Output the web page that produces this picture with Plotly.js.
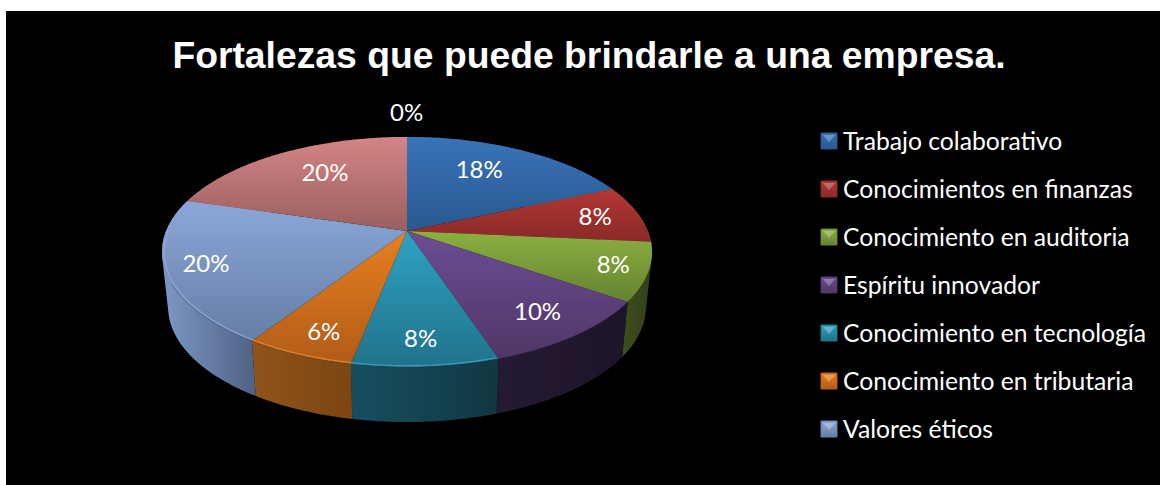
<!DOCTYPE html>
<html>
<head>
<meta charset="utf-8">
<script src="https://cdn.plot.ly/plotly-3.0.1.min.js"></script>
<style>
html,body{margin:0;padding:0;background:#fff;overflow:hidden;width:1160px;height:485px}
#chart{position:absolute;left:6px;top:11px;width:1154px;height:474px}
</style>
</head>
<body>
<div id="chart"></div>
<script>
const categories = ["Trabajo colaborativo","Conocimientos en finanzas","Conocimiento en auditoria","Espíritu innovador","Conocimiento en tecnología","Conocimiento en tributaria","Valores éticos","Categoría 8","Categoría 9"];
const values = [18,8,8,10,8,6,20,20,0];
const legendCount = 7;
const topLight = ["#3a73b9","#b33733","#8bb040","#6d4c96","#2fa3c2","#e8801f","#8ba7da","#d48585","#888888"];
const topDark  = ["#28598f","#882a28","#668232","#503665","#21728c","#b05c18","#667ea6","#9a5f5f","#666666"];
const wallLeft  = ["#2b5486","#6e2220","#3f4e1e","#251a34","#174f60","#8f5418","#7d98c4","#7a4a4a","#444444"];
const wallRight = ["#234569","#5a1c1a","#333f18","#1e1429","#113742","#7a4612","#4f6285","#643c3c","#333333"];
const rimColor  = ["#5a8fd0","#d05a55","#a8cc5c","#8a68b4","#55bdd8","#f7a050","#a5c0ee","#e8a0a0","#999999"];
const labelRadius = [0.695,0.81,0.86,0.80,0.82,0.83,0.84,0.698,0];
const labelFrac   = [0.433,0.5,0.47,0.5,0.51,0.45,0.51,0.555,0.5];
const labelSize = 24, legendSize = 24.7;
const legendRows = [140,188,236,284,332,380,428];

const gd = document.getElementById('chart');
const OX = 6, OY = 11;
// perspective of the pie plane, in page pixels
const view = {cx:407, cy:231, A:240.9, B:111.2, p:0.1826, depth:55, shrink:0.975};
function project(a, r){
  const x = r*Math.sin(a), y = -r*Math.cos(a), d = 1 - view.p*y;
  return [view.cx + view.A*x/d - OX, view.cy + view.B*y/d - OY];
}
function lower(pt){
  const cx = view.cx - OX;
  return [cx + view.shrink*(pt[0]-cx), pt[1] + view.depth];
}
function arc(a0, a1, r){
  const n = Math.max(2, Math.ceil(Math.abs(a1-a0)/0.015)), out = [];
  for(let i=0;i<=n;i++) out.push(project(a0+(a1-a0)*i/n, r));
  return out;
}
const toD = (pts, close) => 'M' + pts.map(p => p[0].toFixed(2)+','+p[1].toFixed(2)).join('L') + (close?'Z':'');
function wallPath(rim){
  let d = '';
  for(let i=0;i<rim.length-1;i++){
    let q = [rim[i], rim[i+1], lower(rim[i+1]), lower(rim[i])], area = 0;
    q.forEach((p,k)=>{const n=q[(k+1)%4]; area += p[0]*n[1]-n[0]*p[1];});
    if(area<0) q = q.reverse();
    d += toD(q, true);
  }
  return d;
}

function pieTrace(extra){
  return Object.assign({
    type:'pie', labels:categories, values:values, sort:false, direction:'clockwise', rotation:0,
    marker:{colors:topLight, line:{width:0}}, domain:{x:[0.1,0.5],y:[0.1,0.7]},
    hoverinfo:'skip', textinfo:'none', showlegend:false
  }, extra);
}
const data = [
  pieTrace({name:'walls'}),
  pieTrace({name:'top', showlegend:true, textinfo:'percent', texttemplate:'%{percent:.0%}',
            textposition:'inside', insidetextorientation:'horizontal',
            insidetextfont:{family:'Lato, sans-serif', size:labelSize, color:'#ffffff'}}),
  pieTrace({name:'rim'})
];
const layout = {
  width:1154, height:474, paper_bgcolor:'#000000', plot_bgcolor:'#000000',
  margin:{l:0,r:0,t:0,b:0,autoexpand:false},
  title:{text:'Fortalezas que puede brindarle a una empresa.',
         font:{family:'Liberation Sans, Arial, sans-serif', size:37.3, color:'#ffffff', weight:'bold'},
         x:(589-OX)/1154, xanchor:'center', xref:'container',
         y:1-(55-OY)/474, yanchor:'middle', yref:'container'},
  legend:{x:0.69, y:0.6, xanchor:'left', yanchor:'top', bgcolor:'rgba(0,0,0,0)',
          font:{family:'Lato, sans-serif', size:legendSize, color:'#ffffff'}},
  annotations:[{text:'0%', xref:'paper', yref:'paper', x:(406-OX)/1154, y:1-(112-OY)/474,
                xanchor:'center', yanchor:'middle', showarrow:false,
                font:{family:'Lato, sans-serif', size:labelSize, color:'#ffffff'}}],
  showlegend:true
};

function gradient(defs, id, c0, c1, horizontal){
  const NS='http://www.w3.org/2000/svg', g=document.createElementNS(NS,'linearGradient');
  g.setAttribute('id',id); g.setAttribute('x1','0'); g.setAttribute('y1','0');
  g.setAttribute('x2',horizontal?'1':'0'); g.setAttribute('y2',horizontal?'0':'1');
  [[0,c0],[1,c1]].forEach(s=>{const e=document.createElementNS(NS,'stop');
    e.setAttribute('offset',s[0]); e.setAttribute('stop-color',s[1]); g.appendChild(e);});
  defs.appendChild(g);
}

Plotly.newPlot(gd, data, layout, {displayModeBar:false}).then(()=>{
  const NS='http://www.w3.org/2000/svg';
  const svg = gd.querySelector('svg.main-svg');
  const defs = document.createElementNS(NS,'defs');
  svg.insertBefore(defs, svg.firstChild);
  categories.forEach((c,i)=>{
    gradient(defs,'top'+i,topLight[i],topDark[i],false);
    gradient(defs,'wall'+i,wallLeft[i],wallRight[i],true);
  });
  const traces = gd.querySelectorAll('.pielayer .trace');
  traces.forEach((tr,ti)=>{
    tr.querySelectorAll('.slice').forEach(sl=>{
      const pt = sl.__data__, i = pt.i;
      const path = sl.querySelector('path.surface');
      if(!path) return;
      const a0 = pt.startangle, a1 = pt.stopangle;
      if(ti===0){
        path.setAttribute('d', wallPath(arc(a0,a1,1)));
        path.style.fill = 'url(#wall'+i+')';
      } else if(ti===1){
        path.setAttribute('d', toD([project(0,0)].concat(arc(a0,a1,1)), true));
        path.style.fill = 'url(#top'+i+')';
        const txt = sl.querySelector('.slicetext text');
        if(txt){
          const at = a0 + (a1-a0)*labelFrac[i], p = project(at, labelRadius[i]);
          txt.removeAttribute('transform');
          const b = txt.getBBox();
          txt.setAttribute('transform','translate('+(p[0]-b.x-b.width/2)+','+(p[1]-b.y-b.height/2-1)+')');
        }
      } else {
        const lo = Math.min(a0,a1), hi = Math.max(a0,a1);
        const s = Math.max(lo, Math.PI*0.9), e = Math.min(hi, Math.PI*1.5);
        if(e>s){
          path.setAttribute('d', toD(arc(s,e,0.992), false));
          path.style.fill='none'; path.style.stroke=rimColor[i];
          path.style.strokeWidth='1.2px'; path.style.strokeOpacity='0.55';
        } else path.setAttribute('d','M0,0');
      }
    });
  });
  // legend: one row per visible category, at the chart's spacing
  const clipped = gd.querySelector('.legend .scrollbox');
  if(clipped) clipped.removeAttribute('clip-path');
  const legend = gd.querySelector('.legend');
  if(legend) legend.removeAttribute('clip-path');
  gd.querySelectorAll('.legend .traces').forEach((t,i)=>{
    if(i>=legendCount){ t.remove(); return; }
    const ctm = t.parentNode.getScreenCTM();
    t.setAttribute('transform','translate('+(803-ctm.e)+','+(legendRows[i]-ctm.f)+')');
    const sym = t.querySelector('path.legendpie');
    if(sym){
      const host = sym.parentNode;
      host.setAttribute('transform','translate(26,1)');
      sym.setAttribute('d','M8,8H-8V-8H8Z');
      sym.setAttribute('transform','');
      sym.style.fill='url(#top'+i+')';
      sym.style.stroke=topDark[i]; sym.style.strokeWidth='1px';
      const tri=document.createElementNS(NS,'path');
      tri.setAttribute('d','M-6,-6L6,-6L0,1Z');
      tri.style.fill='#ffffff'; tri.style.fillOpacity='0.28';
      host.appendChild(tri);
    }
    const bg=t.querySelector('.legendtoggle'); if(bg) bg.style.display='none';
  });
  const lbg = gd.querySelector('.legend .bg'); if(lbg) lbg.style.display='none';
});
</script>
</body>
</html>
